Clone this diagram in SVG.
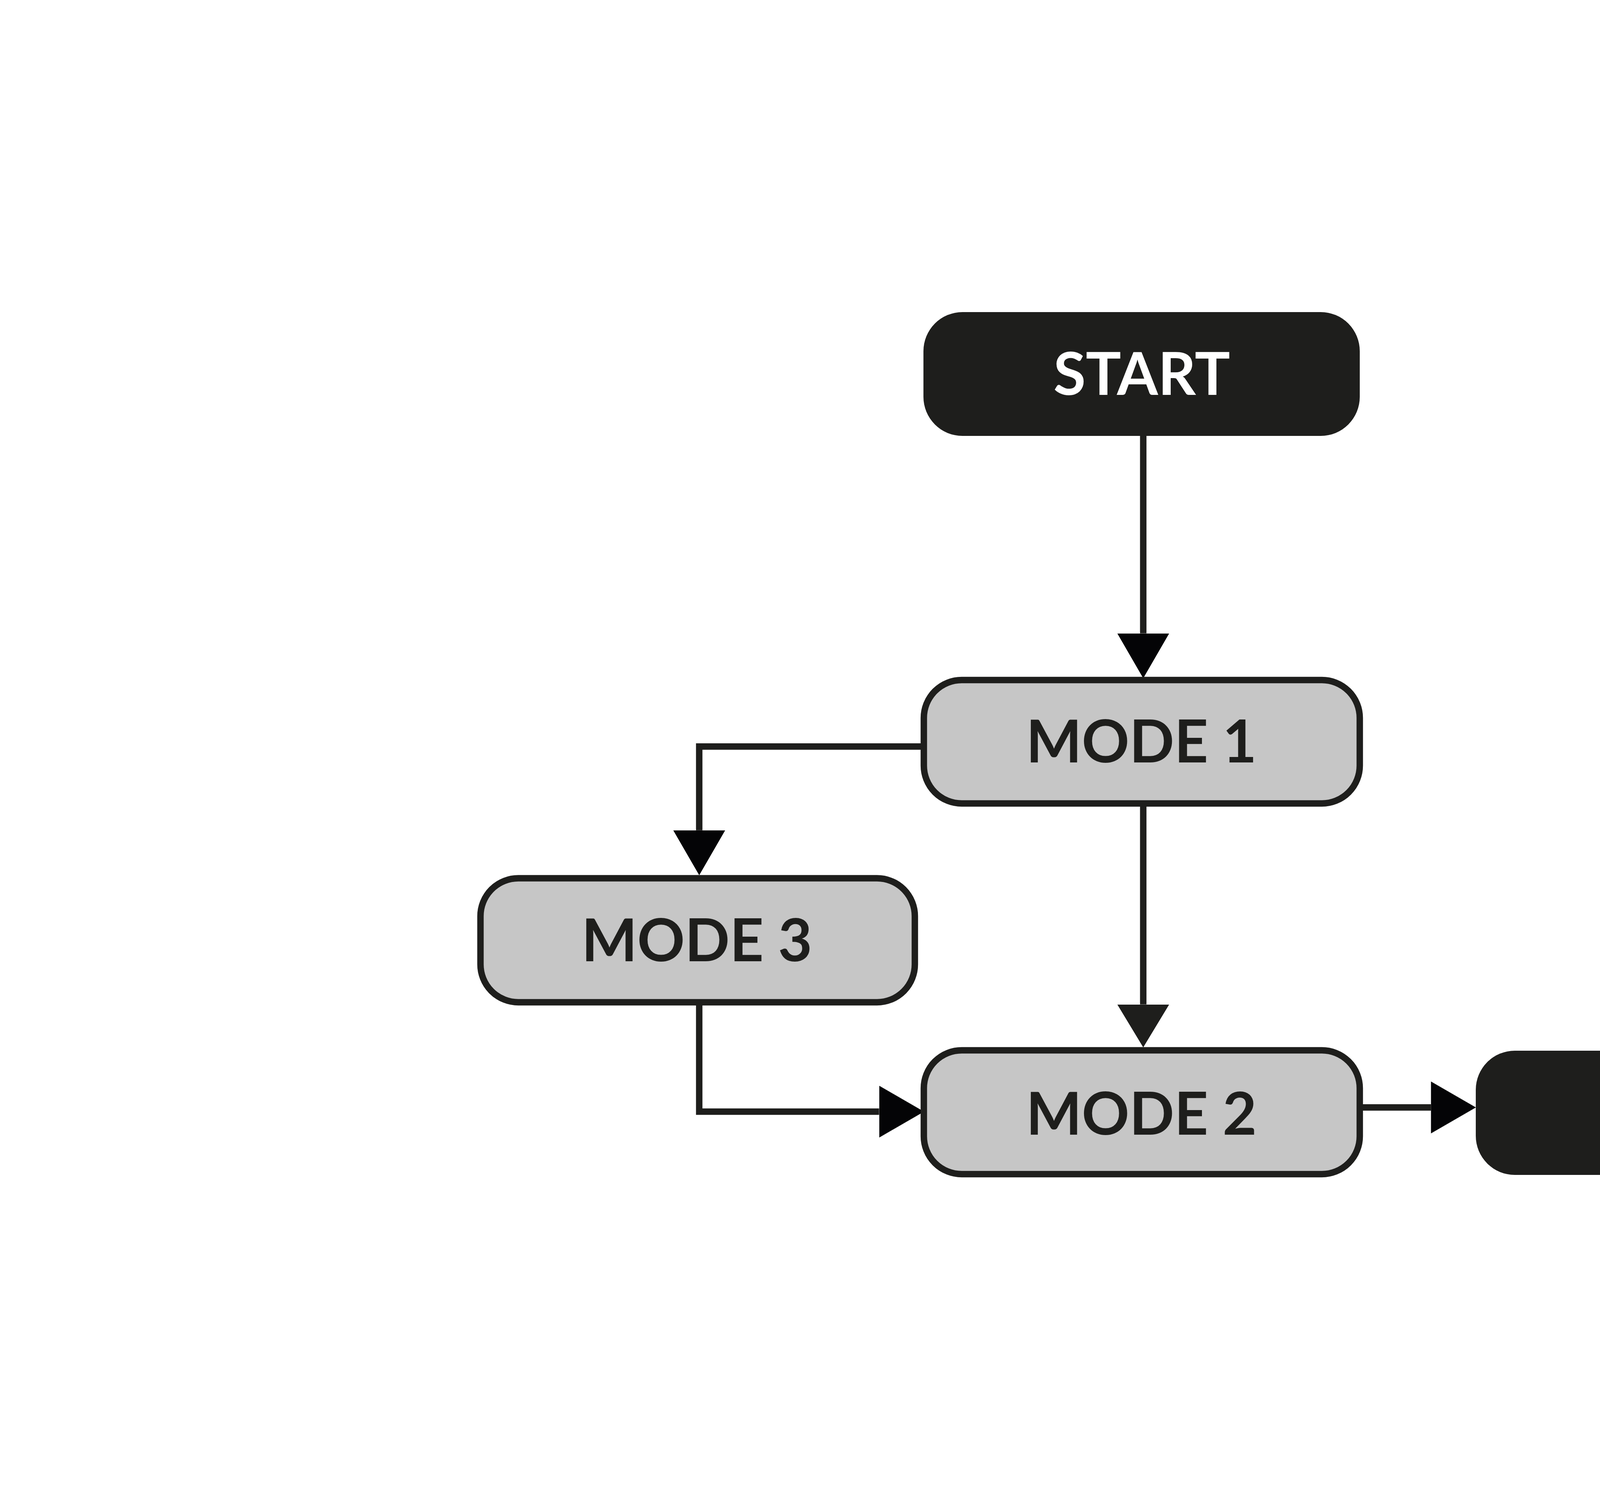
<svg xmlns="http://www.w3.org/2000/svg" width="6121" height="3807" viewBox="0 0 6121 3807">
  <style>
    .term { fill: #1e1e1c; }
    .mode { fill: #c6c6c6; stroke: #1e1e1c; stroke-width: 16.5; }
    .lbl { font-family: Lato, "Liberation Sans", sans-serif; font-weight: 700; font-size: 151px; text-anchor: middle; }
    .lbl-w { fill: #ffffff; }
    .lbl-d { fill: #1e1e1c; }
    .conn { fill: none; stroke: #1e1e1c; stroke-width: 16.5; stroke-linejoin: miter; stroke-linecap: butt; }
  </style>
  <defs>
    <marker id="arrow" markerUnits="userSpaceOnUse" markerWidth="116" markerHeight="134" refX="0" refY="66.5" orient="auto" viewBox="0 0 116 134">
      <path d="M0,0 L115,66.5 L0,133 Z" fill="#040406"/>
    </marker>
    <marker id="arrow-dark" markerUnits="userSpaceOnUse" markerWidth="111" markerHeight="134" refX="0" refY="66.5" orient="auto" viewBox="0 0 111 134">
      <path d="M0,0 L110,66.5 L0,133 Z" fill="#1e1e1c"/>
    </marker>
  </defs>
  <rect width="6121" height="3807" fill="#ffffff"/>

  <g id="connectors">
    <path class="conn" d="M2926.7,1116 L2926.7,1621.5" marker-end="url(#arrow)"/>
    <path class="conn" d="M2357,1911.3 L1790,1911.3 L1790,2125.7" marker-end="url(#arrow)"/>
    <path class="conn" d="M2926.7,2064 L2926.7,2571.5" marker-end="url(#arrow-dark)"/>
    <path class="conn" d="M1790,2574 L1790,2846 L2250.5,2846" marker-end="url(#arrow)"/>
    <path class="conn" d="M3489,2835.3 L3663.3,2835.3" marker-end="url(#arrow)"/>
  </g>

  <g id="start">
    <rect class="term" x="2364" y="799" width="1117" height="317" rx="100" ry="100"/>
    <text class="lbl lbl-w" x="2923" y="1011">START</text>
  </g>
  <g id="mode1">
    <rect class="mode" x="2365" y="1741" width="1116" height="316" rx="97" ry="97"/>
    <text class="lbl lbl-d" x="2922" y="1952">MODE 1</text>
  </g>
  <g id="mode3">
    <rect class="mode" x="1230" y="2248.5" width="1112" height="317.5" rx="97" ry="97"/>
    <text class="lbl lbl-d" x="1784" y="2461">MODE 3</text>
  </g>
  <g id="mode2">
    <rect class="mode" x="2365" y="2689" width="1116" height="317" rx="97" ry="97"/>
    <text class="lbl lbl-d" x="2922" y="2905">MODE 2</text>
  </g>
  <g id="end">
    <rect class="term" x="3778" y="2690" width="1115" height="318" rx="100" ry="100"/>
    <text class="lbl lbl-w" x="4336" y="2902">END</text>
  </g>
</svg>
